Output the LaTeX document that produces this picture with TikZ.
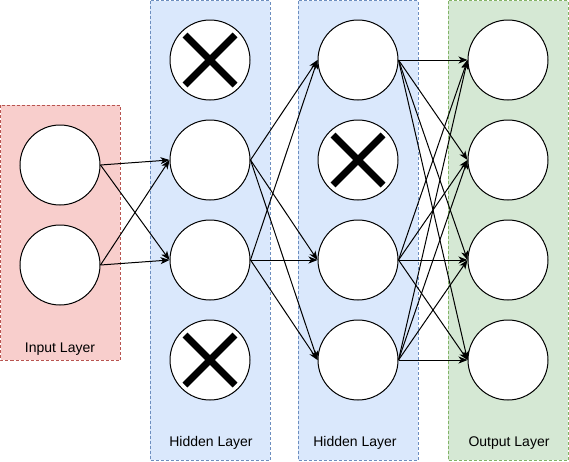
\documentclass[tikz,border=0pt]{standalone}
\usepackage{fontspec}
\setmainfont{Liberation Sans}
\usetikzlibrary{arrows.meta}
\definecolor{inFill}{HTML}{F8CECC}
\definecolor{inLine}{HTML}{B85450}
\definecolor{hidFill}{HTML}{DAE8FC}
\definecolor{hidLine}{HTML}{6C8EBF}
\definecolor{outFill}{HTML}{D5E8D4}
\definecolor{outLine}{HTML}{82B366}
\tikzset{
  layerbox/.style={dashed, line width=0.8pt, dash pattern=on 3pt off 2pt},
  neuron/.style={circle, draw=black, fill=white, line width=1pt, minimum size=80pt, inner sep=0pt},
  dropx/.style={line width=7pt, black},
  conn/.style={line width=1pt, -{Stealth[length=9pt,width=7pt,inset=2.5pt]}},
  lbl/.style={font=\fontsize{14}{16}\selectfont, inner sep=0pt}
}
\begin{document}
\begin{tikzpicture}[x=1pt,y=-1pt]
\useasboundingbox (0,0) rectangle (569,461);
% layer boxes
\draw[layerbox, fill=inFill, draw=inLine] (0.5,105) rectangle (120,360);
\draw[layerbox, fill=hidFill, draw=hidLine] (150,0.5) rectangle (270,460);
\draw[layerbox, fill=hidFill, draw=hidLine] (298,0.5) rectangle (418,460);
\draw[layerbox, fill=outFill, draw=outLine] (448,0.5) rectangle (568,460);
% labels
\node[lbl] (linput) at (60,349) {Input Layer};
\node[lbl] (lh1) at (211,443) {Hidden Layer};
\node[lbl] (lh2) at (355,443) {Hidden Layer};
\node[lbl] (lout) at (509,443) {Output Layer};
% neurons
\node[neuron] (i1) at (60,165) {};
\node[neuron] (i2) at (60,265) {};
\foreach \k/\y in {1/60,2/160,3/260,4/360}{
  \node[neuron] (a\k) at (210,\y) {};
  \node[neuron] (b\k) at (358,\y) {};
  \node[neuron] (o\k) at (508,\y) {};
}
% dropout crosses
\foreach \n in {a1,a4,b2}{
  \draw[dropx] ([shift={(-25,-25)}]\n.center) -- ([shift={(25,25)}]\n.center);
  \draw[dropx] ([shift={(-25,25)}]\n.center) -- ([shift={(25,-25)}]\n.center);
}
% connections
\foreach \s in {i1,i2}{
  \foreach \t in {a2,a3}{
    \draw[conn] (\s.east) -- (\t.west);
  }
}
\foreach \s in {a2,a3}{
  \foreach \t in {b1,b3,b4}{
    \draw[conn] (\s.east) -- (\t.west);
  }
}
\foreach \s in {b1,b3,b4}{
  \foreach \t in {o1,o2,o3,o4}{
    \draw[conn] (\s.east) -- (\t.west);
  }
}
\end{tikzpicture}
\end{document}
